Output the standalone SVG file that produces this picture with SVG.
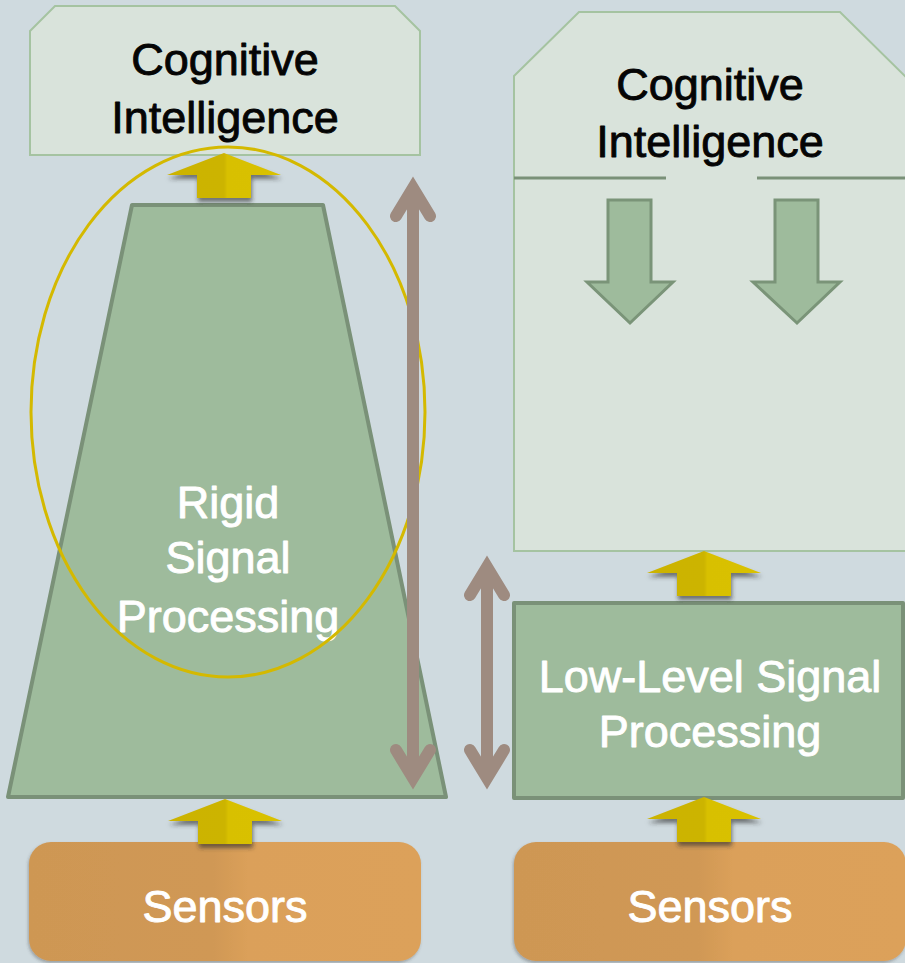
<svg xmlns="http://www.w3.org/2000/svg" width="905" height="963" viewBox="0 0 905 963">
  <style>
    .label { font-family: "Liberation Sans", Arial, sans-serif; font-size: 45px; text-anchor: middle; stroke-width: 0.9; stroke-linejoin: round; }
    .dark { fill: #050505; stroke: #050505; }
    .light { fill: #ffffff; stroke: #ffffff; }
    .cog { fill: #D9E3DB; stroke: #A5C3A1; stroke-width: 2; }
    .proc { fill: #9EBB9C; stroke: #7A9178; stroke-width: 4; stroke-linejoin: round; }
    .sensor { fill: url(#sensorFill); filter: url(#softShadow); }
    .lift { fill: url(#liftFill); filter: url(#liftShadow); }
    .span { fill: none; stroke: #9E8B80; stroke-width: 12; stroke-linecap: round; stroke-linejoin: miter; }
    .down { fill: #9EBB9C; stroke: #7A9478; stroke-width: 3; stroke-linejoin: miter; }
  </style>
  <defs>
    <linearGradient id="sensorFill" x1="0" y1="0" x2="1" y2="0">
      <stop offset="0" stop-color="#CE9753"/>
      <stop offset="0.47" stop-color="#D09855"/>
      <stop offset="0.56" stop-color="#DBA05A"/>
      <stop offset="1" stop-color="#DCA15A"/>
    </linearGradient>
    <linearGradient id="liftFill" x1="0" y1="0" x2="1" y2="0">
      <stop offset="0" stop-color="#CCB300"/>
      <stop offset="0.5" stop-color="#CCB400"/>
      <stop offset="0.53" stop-color="#D8C000"/>
      <stop offset="1" stop-color="#D9C100"/>
    </linearGradient>
    <filter id="liftShadow" x="-30%" y="-30%" width="160%" height="180%">
      <feDropShadow dx="1" dy="4" stdDeviation="2" flood-color="#2a2a2a" flood-opacity="0.6"/>
    </filter>
    <filter id="softShadow" x="-10%" y="-10%" width="120%" height="130%">
      <feDropShadow dx="-1" dy="2" stdDeviation="1.5" flood-color="#3a3a3a" flood-opacity="0.35"/>
    </filter>
    <!-- upward block arrow, tip at the origin -->
    <path id="lift" d="M0 0 L57 22 L27 22 L27 45 L-27 45 L-27 22 L-57 22 Z"/>
  </defs>

  <rect width="905" height="963" fill="#CFDADF"/>

  <!-- left stack -->
  <g id="node-cog-left">
    <path class="cog" d="M30 31 L55 6 L395 6 L420 31 L420 155 L30 155 Z"/>
    <text class="label dark" x="225" y="75">Cognitive</text>
    <text class="label dark" x="225" y="133">Intelligence</text>
  </g>

  <g id="node-rigid">
    <path class="proc" d="M132 205 L323 205 L446 797 L8 797 Z"/>
    <text class="label light" x="228" y="518">Rigid</text>
    <text class="label light" x="228" y="573">Signal</text>
    <text class="label light" x="228" y="632">Processing</text>
  </g>

  <g id="node-sensors-left">
    <rect class="sensor" x="29" y="842" width="392" height="119" rx="22"/>
    <text class="label light" x="225" y="922">Sensors</text>
  </g>

  <g id="highlight">
    <ellipse cx="228" cy="412" rx="197" ry="265" fill="none" stroke="#D4B900" stroke-width="3"/>
  </g>

  <!-- right stack -->
  <g id="node-cog-right">
    <path class="cog" d="M514 76 L579 12 L840 12 L907 78 L907 551 L514 551 Z"/>
    <path d="M514 178 H666 M757 178 H907" stroke="#7A9178" stroke-width="3" fill="none"/>
    <text class="label dark" x="710" y="100">Cognitive</text>
    <text class="label dark" x="710" y="157">Intelligence</text>
    <path class="down" d="M608 200 H651 V282 H673 L630 323 L587 282 H608 Z"/>
    <path class="down" d="M775 200 H818 V282 H840 L797 323 L753 282 H775 Z"/>
  </g>

  <g id="node-lowlevel">
    <rect class="proc" x="514" y="603" width="389" height="195"/>
    <text class="label light" x="710" y="692">Low-Level Signal</text>
    <text class="label light" x="710" y="747">Processing</text>
  </g>

  <g id="node-sensors-right">
    <rect class="sensor" x="514" y="842" width="392" height="119" rx="22"/>
    <text class="label light" x="710" y="922">Sensors</text>
  </g>

  <!-- connectors -->
  <g id="connectors">
    <use href="#lift" class="lift" transform="translate(224 153)"/>
    <use href="#lift" class="lift" transform="translate(225 799)"/>
    <use href="#lift" class="lift" transform="translate(704 551)"/>
    <use href="#lift" class="lift" transform="translate(704 797)"/>

    <!-- span arrows -->
    <path class="span" d="M413 188 V778 M396 216 L413 188 L430 216 M396 750 L413 778 L430 750"/>
    <path class="span" d="M487 567 V778 M470 595 L487 567 L504 595 M470 750 L487 778 L504 750"/>
  </g>
</svg>
